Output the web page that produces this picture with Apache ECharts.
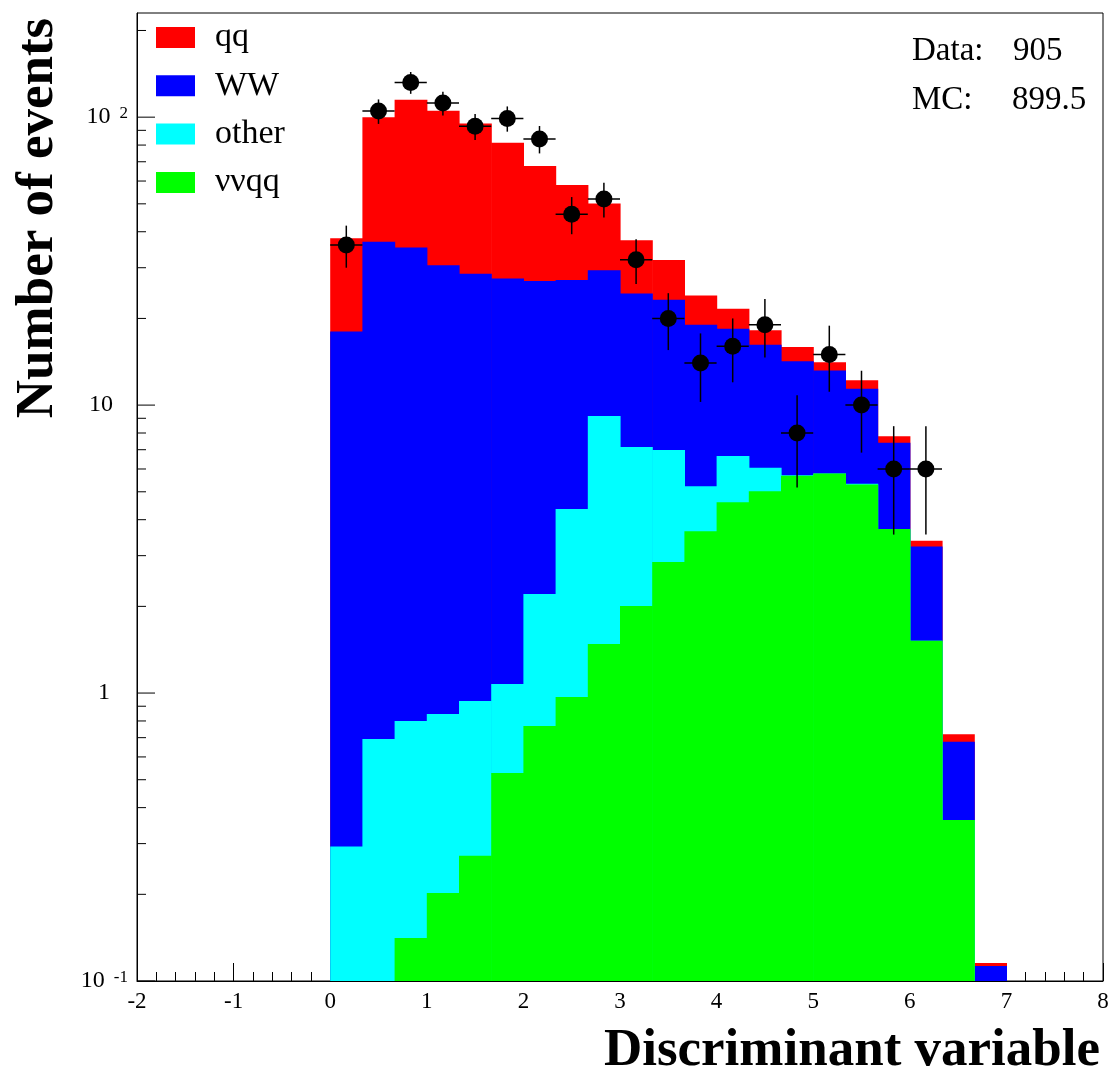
<!DOCTYPE html>
<html>
<head>
<meta charset="utf-8">
<script src="https://cdn.jsdelivr.net/npm/echarts@6/dist/echarts.min.js"></script>
<style>
  html, body { margin: 0; padding: 0; background: #fff; }
  #chart { width: 1112px; height: 1072px; }
</style>
</head>
<body>
<div id="chart"></div>
<script>
// ---------------- data ----------------
const binStart = 0;          // low edge of the first bin
const binWidth = 1 / 3;      // bin width
const seriesNames = ['qq', 'WW', 'other', 'ννqq'];
const seriesColors = ['#ff0000', '#0000ff', '#00ffff', '#00ff00'];

// per-bin contents of each MC component (21 bins from 0 to 7)
const qq    = [20.0, 63.1, 79.7, 74.7, 66.5, 54.0, 40.6, 30.9, 20.7, 13.0, 8.7, 5.0, 3.2, 2.0, 1.7, 0.9, 0.8, 0.40, 0.15, 0.042, 0.0028];
const WW    = [17.71, 36.21, 34.50, 29.75, 27.66, 26.43, 24.79, 22.84, 20.24, 17.25, 16.22, 13.77, 11.75, 10.14, 8.49, 7.41, 6.07, 3.69, 1.71, 0.316, 0.1127];
const other = [0.293, 0.692, 0.659, 0.644, 0.666, 0.547, 1.442, 3.392, 7.68, 5.145, 4.13, 1.58, 2.05, 1.04, 0.03, 0, 0.03, 0, 0, 0, 0];
const vvqq  = [0, 0, 0.141, 0.202, 0.272, 0.528, 0.768, 0.968, 1.48, 2.005, 2.85, 3.65, 4.60, 5.02, 5.68, 5.79, 5.30, 3.71, 1.52, 0.362, 0];

// observed data per bin (first 19 bins)
const dataCounts = [36, 105, 132, 112, 93, 99, 84, 46, 52, 32, 20, 14, 16, 19, 8, 15, 10, 6, 6];

// axis settings
const xMin = -2, xMax = 8, xInterval = 1;
const yMin = 0.1, yMax = 230;
const yMajorTicks = [0.1, 1, 10, 100];
const yMinorTicks = [0.2, 0.3, 0.4, 0.5, 0.6, 0.7, 0.8, 0.9,
                     2, 3, 4, 5, 6, 7, 8, 9,
                     20, 30, 40, 50, 60, 70, 80, 90, 200];

const statLabels = ['Data:', 'MC:'];
const statValues = ['905', '899.5'];
const xTitle = 'Discriminant variable';
const yTitle = 'Number of events';

// ---------------- build ----------------
const SERIF = "'Liberation Serif', 'DejaVu Serif', serif";
const chart = echarts.init(document.getElementById('chart'), null, { renderer: 'canvas' });

// cumulative stacks (drawn back to front: total first)
const comps = [qq, WW, other, vvqq];
const layers = comps.map((_, k) =>
  qq.map((__, i) => comps.slice(k).reduce((s, arr) => s + arr[i], 0))
);

function histSeries(k) {
  return {
    type: 'custom',
    name: seriesNames[k],
    coordinateSystem: 'cartesian2d',
    itemStyle: { color: seriesColors[k] },
    encode: { x: 0, y: 1 },
    clip: true,
    silent: true,
    z: 2 + k,
    data: layers[k].map((v, i) => [binStart + (i + 0.5) * binWidth, v > 0 ? v : '-']),
    renderItem: function (params, api) {
      const top = api.value(1);
      if (!(top > 0)) return null;
      const xc = api.value(0);
      const p0 = api.coord([xc - binWidth / 2, top]);
      const p1 = api.coord([xc + binWidth / 2, yMin]);
      return {
        type: 'rect',
        shape: { x: p0[0], y: p0[1], width: p1[0] - p0[0] + 0.6, height: p1[1] - p0[1] },
        style: { fill: seriesColors[k] }
      };
    }
  };
}

const pointSeries = {
  type: 'custom',
  name: 'Data',
  coordinateSystem: 'cartesian2d',
  encode: { x: 0, y: 1 },
  silent: true,
  z: 10,
  data: dataCounts.map((n, i) => [binStart + (i + 0.5) * binWidth, n]),
  renderItem: function (params, api) {
    const xc = api.value(0), n = api.value(1);
    const err = Math.sqrt(n);
    const c = api.coord([xc, n]);
    const up = api.coord([xc, n + err]);
    const dn = api.coord([xc, Math.max(n - err, yMin)]);
    const l = api.coord([xc - binWidth / 2, n]);
    const r = api.coord([xc + binWidth / 2, n]);
    const ls = { stroke: '#000', lineWidth: 1.5 };
    return {
      type: 'group',
      children: [
        { type: 'line', shape: { x1: c[0], y1: up[1], x2: c[0], y2: dn[1] }, style: ls },
        { type: 'line', shape: { x1: l[0], y1: c[1], x2: r[0], y2: c[1] }, style: ls },
        { type: 'circle', shape: { cx: c[0], cy: c[1], r: 8.5 }, style: { fill: '#000' } }
      ]
    };
  }
};

const yTickSeries = {
  type: 'custom',
  name: 'yticks',
  coordinateSystem: 'cartesian2d',
  encode: { x: 0, y: 1 },
  silent: true,
  z: 20,
  data: yMajorTicks.map(v => [xMin, v, 1]).concat(yMinorTicks.map(v => [xMin, v, 0])),
  renderItem: function (params, api) {
    const p = api.coord([api.value(0), api.value(1)]);
    const len = api.value(2) ? 18 : 9;
    return {
      type: 'line',
      shape: { x1: p[0], y1: p[1], x2: p[0] + len, y2: p[1] },
      style: { stroke: '#000', lineWidth: 1 }
    };
  }
};

const option = {
  backgroundColor: '#ffffff',
  animation: false,
  grid: {
    left: 137, right: 9, top: 13, bottom: 91,
    show: true, borderColor: '#000', borderWidth: 1, backgroundColor: 'transparent'
  },
  legend: {
    orient: 'vertical',
    left: 156, top: 20.5, padding: 0,
    itemWidth: 39, itemHeight: 21, itemGap: 14.3,
    selectedMode: false,
    textStyle: { fontFamily: SERIF, fontSize: 34, color: '#000', padding: [0, 0, 0, 15] },
    data: seriesNames.map((nm, k) => ({ name: nm, icon: 'rect', itemStyle: { color: seriesColors[k] } }))
  },
  xAxis: {
    type: 'value',
    min: xMin, max: xMax, interval: xInterval,
    axisLine: { show: true, onZero: false, lineStyle: { color: '#000', width: 1 } },
    axisTick: { show: true, inside: true, length: 18, lineStyle: { color: '#000', width: 1 } },
    minorTick: { show: true, splitNumber: 5, length: 9, lineStyle: { color: '#000', width: 1 } },
    splitLine: { show: false },
    axisLabel: { fontFamily: SERIF, fontSize: 23, color: '#000', margin: 9 }
  },
  yAxis: {
    type: 'log', logBase: 10,
    min: yMin, max: yMax,
    axisLine: { show: true, onZero: false, lineStyle: { color: '#000', width: 1 } },
    axisTick: { show: false },
    splitLine: { show: false },
    axisLabel: {
      margin: 9,
      color: '#000',
      showMinLabel: true, showMaxLabel: false,
      formatter: function (v) {
        const lg = Math.log10(v);
        const e = Math.round(lg);
        if (Math.abs(lg - e) > 1e-6) return '';
        if (e === 0) return '{b|1}{w18| }';
        if (e === 1) return '{b|10}{w15| }';
        return '{b|10}{s|' + e + '}';
      },
      rich: {
        b: { fontFamily: SERIF, fontSize: 24, lineHeight: 24, padding: [8, 0, 0, 0], verticalAlign: 'bottom', color: '#000' },
        s: { fontFamily: SERIF, fontSize: 17, lineHeight: 17, padding: [0, 0, 0, 9], verticalAlign: 'top', color: '#000' },
        w15: { width: 15, fontSize: 10 },
        w18: { width: 18, fontSize: 10 }
      }
    }
  },
  graphic: [
    { type: 'text', x: 912, y: 51, style: { text: statLabels[0], font: "33px 'Liberation Serif'", fill: '#000', align: 'left', verticalAlign: 'middle' } },
    { type: 'text', x: 1013, y: 51, style: { text: statValues[0], font: "33px 'Liberation Serif'", fill: '#000', align: 'left', verticalAlign: 'middle' } },
    { type: 'text', x: 912, y: 100, style: { text: statLabels[1], font: "33px 'Liberation Serif'", fill: '#000', align: 'left', verticalAlign: 'middle' } },
    { type: 'text', x: 1012, y: 100, style: { text: statValues[1], font: "33px 'Liberation Serif'", fill: '#000', align: 'left', verticalAlign: 'middle' } },
    { type: 'text', x: 1100, y: 1051, style: { text: xTitle, font: "bold 53px 'Liberation Serif'", fill: '#000', align: 'right', verticalAlign: 'middle' } },
    { type: 'text', x: 38, y: 218, rotation: Math.PI / 2, style: { text: yTitle, font: "bold 53px 'Liberation Serif'", fill: '#000', align: 'center', verticalAlign: 'middle' } }
  ],
  series: [histSeries(0), histSeries(1), histSeries(2), histSeries(3), pointSeries, yTickSeries]
};

chart.setOption(option);
</script>
</body>
</html>
